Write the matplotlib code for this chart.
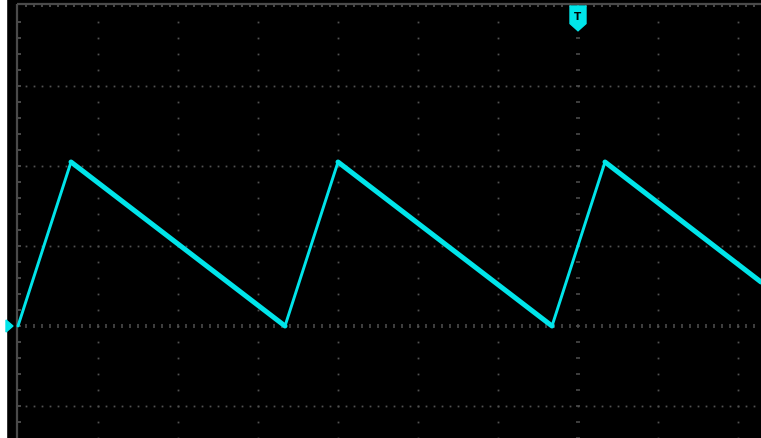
import matplotlib
matplotlib.use("Agg")
import matplotlib.pyplot as plt
import numpy as np

# Waveform vertices (time in divisions, voltage in divisions)
t_div = [0.0, 0.6625, 3.3375, 4.0, 6.675, 7.3375, 9.2875]
v_div = [0.0, 2.05, 0.0, 2.05, 0.0, 2.05, 0.55]

grid_x = [1, 2, 3, 4, 5, 6, 8, 9]      # vertical dotted grid lines
grid_y = [3, 2, 1, -1]                # horizontal dotted grid lines
center_x = 7.0                        # trigger / centre vertical axis
center_y = 0.0                        # ground / centre horizontal axis
trig_label = "T"

TRACE = "#00E5EA"
GRID = "#505050"
FRAME = "#4a4a4a"

fig = plt.figure(figsize=(7.61, 4.39), dpi=100)
fig.patch.set_facecolor("black")
ax = fig.add_axes([0, 0, 1, 1])
ax.set_facecolor("black")
ax.set_xlim(-0.225, 9.2875)
ax.set_ylim(-1.4, 4.0875)
ax.axis("off")

# white strip at far left
ax.axvspan(-0.225, -0.156, color="white", zorder=0)

xmax = 9.3
ybot = -1.4
ytop = 4.03

# frame
ax.plot([-0.01, xmax], [ytop, ytop], color=FRAME, lw=1.6, zorder=2, solid_capstyle="butt")
ax.plot([-0.01, -0.01], [ybot, ytop], color=FRAME, lw=1.6, zorder=2, solid_capstyle="butt")
# frame ticks
tx = np.arange(0.1, xmax, 0.1)
for x in tx:
    ax.plot([x, x], [ytop, ytop - 0.045], color=FRAME, lw=1.4, zorder=2, solid_capstyle="butt")
ty = np.arange(-1.2, 4.0, 0.2)
for y in ty:
    ax.plot([-0.01, 0.035], [y, y], color=FRAME, lw=1.4, zorder=2, solid_capstyle="butt")

# dotted grid lines
for gy in grid_y:
    xs = np.arange(0.1, xmax, 0.1)
    ax.plot(xs, np.full_like(xs, gy), ls="none", marker="s", ms=1.3, mec="none", mfc=GRID, zorder=1)
for gx in grid_x:
    ys = np.arange(-1.4, 4.0, 0.2)
    ax.plot(np.full_like(ys, gx), ys, ls="none", marker="s", ms=1.3, mec="none", mfc=GRID, zorder=1)

# centre axes with dash marks
xs = np.arange(0.1, xmax, 0.1)
ax.plot(xs, np.full_like(xs, center_y), ls="none", marker="|", ms=3.0, mew=1.1, color=GRID, zorder=1)
ys = np.arange(-1.4, 4.0, 0.2)
ax.plot(np.full_like(ys, center_x), ys, ls="none", marker="_", ms=3.0, mew=1.1, color=GRID, zorder=1)

# waveform: rising edges thin, falling edges thick
for i in range(len(t_div) - 1):
    rising = v_div[i + 1] > v_div[i]
    ax.plot(t_div[i:i + 2], v_div[i:i + 2], color=TRACE,
            lw=2.1 if rising else 3.6, solid_capstyle="round", zorder=3)

# trigger marker
hw = 0.1
poly_x = [center_x - hw, center_x + hw, center_x + hw, center_x, center_x - hw]
poly_y = [4.0, 4.0, 3.78, 3.69, 3.78]
ax.fill(poly_x, poly_y, color=TRACE, zorder=4)
ax.text(center_x, 3.88, trig_label, color="black", fontsize=7.5, fontweight="bold",
        ha="center", va="center", zorder=5)

# ground-level marker on the left
ax.fill([-0.15, -0.0625, -0.15], [center_y + 0.075, center_y, center_y - 0.075],
        color=TRACE, zorder=4)

fig.savefig("out.png", dpi=100, facecolor="black")
